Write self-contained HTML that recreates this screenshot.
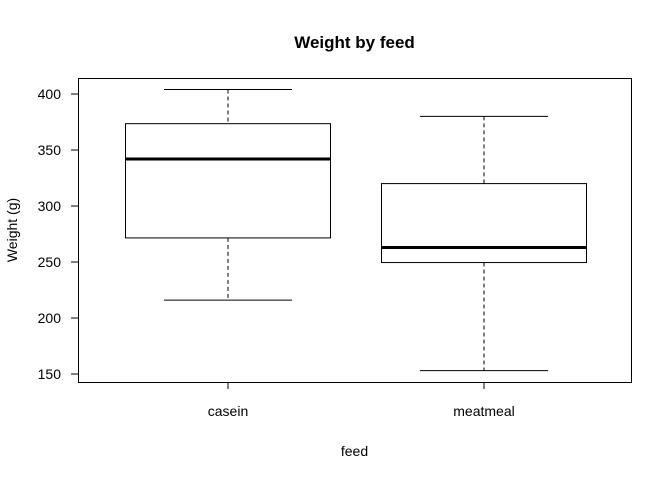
<!DOCTYPE html>
<html><head><meta charset="utf-8"><style>
body{margin:0;background:#fff;}
svg{display:block;font-family:"Liberation Sans",Arial,sans-serif;}
</style></head><body>
<svg id="chart" width="672" height="480" viewBox="0 0 672 480">
<rect x="0" y="0" width="672" height="480" fill="#fff"/>
<text x="354.5" y="48" text-anchor="middle" font-size="17" font-weight="bold">Weight by feed</text>
<rect x="78.5" y="78.5" width="553" height="304" fill="none" stroke="#000" stroke-width="1"/>
<text x="354.5" y="456" text-anchor="middle" font-size="14">feed</text>
<text transform="translate(17,230) rotate(-90)" text-anchor="middle" font-size="14">Weight (g)</text>
<g id="marks"></g>
</svg>
<script>
const categories = ["casein", "meatmeal"];
const whiskerLow = [216, 153];
const q1 = [271.5, 249.5];
const medians = [342, 263];
const q3 = [373.5, 320];
const whiskerHigh = [404, 380];
const yTicks = [150, 200, 250, 300, 350, 400];

const NS = "http://www.w3.org/2000/svg";
const g = document.getElementById("marks");
function y(v){ return 94 + (400 - v) * 1.12; }
function x(i){ return 228 + i * 256; }
function mk(tag, attrs, parent){
  const e = document.createElementNS(NS, tag);
  for (const k in attrs) e.setAttribute(k, attrs[k]);
  (parent || g).appendChild(e);
  return e;
}
yTicks.forEach(t => {
  const l = mk("line", {x1:71, x2:78.5, y1:y(t), y2:y(t), stroke:"#000"});
  
  
  const tx = mk("text", {x:61, y:y(t)+5, "text-anchor":"end", "font-size":"14"});
  tx.textContent = t;
  
  
});
categories.forEach((c, i) => {
  const cx = x(i);
  const tk = mk("line", {x1:cx, x2:cx, y1:382.5, y2:389, stroke:"#000"});
  
  
  const lb = mk("text", {x:cx, y:416, "text-anchor":"middle", "font-size":"14"});
  lb.textContent = c;
  
  
  const grp = mk("g", {});
  
  
  mk("line", {x1:cx, x2:cx, y1:y(whiskerHigh[i]), y2:y(q3[i]), stroke:"#000", "stroke-dasharray":"4,3"}, grp);
  mk("line", {x1:cx, x2:cx, y1:y(q1[i]), y2:y(whiskerLow[i]), stroke:"#000", "stroke-dasharray":"4,3"}, grp);
  mk("line", {x1:cx-64, x2:cx+64, y1:y(whiskerHigh[i]), y2:y(whiskerHigh[i]), stroke:"#000"}, grp);
  mk("line", {x1:cx-64, x2:cx+64, y1:y(whiskerLow[i]), y2:y(whiskerLow[i]), stroke:"#000"}, grp);
  mk("rect", {x:cx-102.5, y:y(q3[i]), width:205, height:y(q1[i])-y(q3[i]), fill:"#fff", stroke:"#000"}, grp);
  mk("line", {x1:cx-102.5, x2:cx+102.5, y1:y(medians[i]), y2:y(medians[i]), stroke:"#000", "stroke-width":3}, grp);
});
</script>
</body></html>
